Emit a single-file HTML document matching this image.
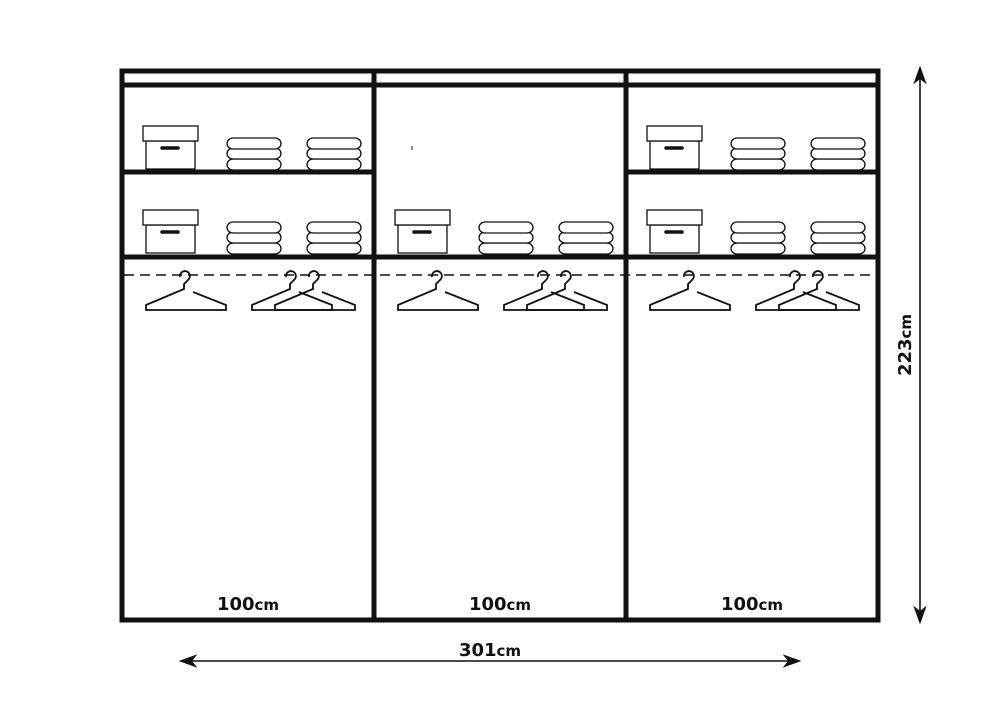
<!DOCTYPE html>
<html><head><style>html,body{margin:0;padding:0;background:#fff}svg{display:block}</style></head>
<body>
<svg width="1000" height="718" viewBox="0 0 1000 718" xmlns="http://www.w3.org/2000/svg">
<defs>
<g id="box" fill="#fff" stroke="#111" stroke-width="1.3">
<rect x="146" y="141" width="49" height="28"/>
<rect x="143" y="126" width="55" height="15"/>
<line x1="162" y1="148" x2="178" y2="148" stroke-width="3.5" stroke-linecap="round"/>
</g>
<g id="towel" fill="#fff" stroke="#111" stroke-width="1.3">
<rect x="227" y="159" width="54" height="11" rx="6"/>
<rect x="227" y="148" width="54" height="11" rx="6"/>
<rect x="227" y="138" width="54" height="11" rx="6"/>
</g>
<g id="hanger" fill="none" stroke="#111" stroke-width="1.8">
<path d="M180,277 a5,5 0 1 1 8,3 l-4,4 v5 L146,305 v5 h80 v-5 L193,292"/>
</g>
<g id="door">
<use href="#box"/>
<use href="#towel"/>
<use href="#towel" x="80"/>
<use href="#box" y="84"/>
<use href="#towel" y="84"/>
<use href="#towel" x="80" y="84"/>
<use href="#hanger"/>
<use href="#hanger" x="106"/>
<use href="#hanger" x="129"/>
</g>
</defs>
<use href="#door"/>
<use href="#door" x="504"/>
<g transform="translate(252,0)">
<use href="#box" y="84"/>
<use href="#towel" y="84"/>
<use href="#towel" x="80" y="84"/>
<use href="#hanger"/>
<use href="#hanger" x="106"/>
<use href="#hanger" x="129"/>
</g>
<line x1="412" y1="146" x2="412" y2="150" stroke="#111" stroke-width="1"/>
<line x1="124" y1="275" x2="876" y2="275" stroke="#111" stroke-width="1.6" stroke-dasharray="10,6"/>
<g stroke="#111" stroke-width="5" fill="none">
<rect x="122" y="71" width="756" height="549"/>
<line x1="374" y1="71" x2="374" y2="620"/>
<line x1="626" y1="71" x2="626" y2="620"/>
<line x1="122" y1="85" x2="878" y2="85"/>
<line x1="122" y1="172" x2="374" y2="172"/>
<line x1="626" y1="172" x2="878" y2="172"/>
<line x1="122" y1="257" x2="878" y2="257"/>
</g>
<g stroke="#111" stroke-width="1.6" fill="#111">
<line x1="920" y1="76" x2="920" y2="614"/>
<path d="M920,68 l-5,14 l5,-4 l5,4z"/>
<path d="M920,622 l-5,-14 l5,4 l5,-4z"/>
<line x1="188" y1="661" x2="792" y2="661"/>
<path d="M181,661 l14,-5 l-4,5 l4,5z"/>
<path d="M799,661 l-14,-5 l4,5 l-4,5z"/>
</g>
<g font-family="DejaVu Sans, sans-serif" font-weight="bold" fill="#111" text-anchor="middle">
<text x="248" y="610" font-size="18">100<tspan font-size="15">cm</tspan></text>
<text x="500" y="610" font-size="18">100<tspan font-size="15">cm</tspan></text>
<text x="752" y="610" font-size="18">100<tspan font-size="15">cm</tspan></text>
<text x="490" y="656" font-size="18">301<tspan font-size="15">cm</tspan></text>
<text transform="translate(911,345) rotate(-90)" font-size="18">223<tspan font-size="15">cm</tspan></text>
</g>
</svg>
</body></html>
